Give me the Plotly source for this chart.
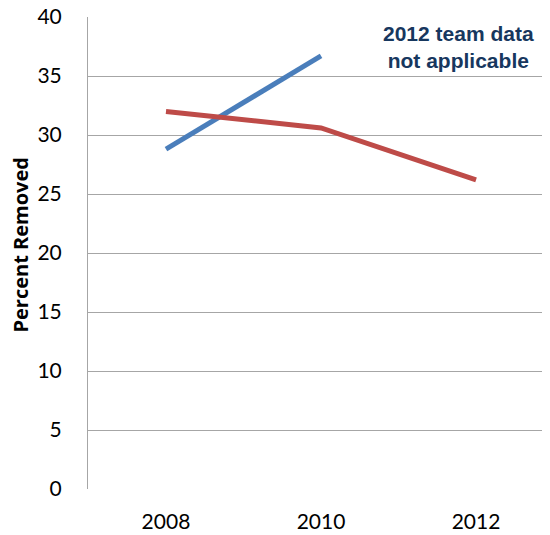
import plotly.graph_objects as go

years = ["2008", "2010", "2012"]
blue_vals = [28.8, 36.7, None]
red_vals = [32.0, 30.6, 26.2]
y_ticks = [0, 5, 10, 15, 20, 25, 30, 35, 40]

# page body has an 8px margin, so the figure is offset by 8px
W, H = 542, 527
ml, mr, mt, mb = 80, 0, 9, 46
pw = W - ml - mr
ph = H - mt - mb

fig = go.Figure()
fig.add_trace(go.Scatter(x=years, y=blue_vals, mode="lines",
                         line=dict(color="#4A7EBB", width=5), showlegend=False))
fig.add_trace(go.Scatter(x=years, y=red_vals, mode="lines",
                         line=dict(color="#BE4B48", width=5), showlegend=False))

fig.add_annotation(x=(450 - ml) / pw, y=1 - (39 - mt) / ph,
                   xref="paper", yref="paper", xanchor="center", yanchor="middle",
                   text="<b>2012 team data<br>not applicable</b>", showarrow=False,
                   font=dict(family="Liberation Sans, Arial", size=21, color="#17375E"),
                   align="center")
fig.add_annotation(x=(12 - ml) / pw, y=1 - (237.5 - mt) / ph, xref="paper", yref="paper",
                   xanchor="center", yanchor="middle",
                   text="<b>Percent Removed</b>", textangle=-90, showarrow=False,
                   font=dict(family="Open Sans", size=20, color="#000000"))

fig.update_layout(
    width=W, height=H,
    margin=dict(l=ml, r=mr, t=mt, b=mb),
    plot_bgcolor="white", paper_bgcolor="white",
    xaxis=dict(type="category", range=[-0.503, 2.477], showgrid=False,
               showline=False, zeroline=False, ticks="", automargin=False,
               tickfont=dict(family="Lato, Open Sans", size=21, color="#000000"),
               ticklabelstandoff=18),
    yaxis=dict(range=[0, 40], tickvals=y_ticks, showgrid=True, gridcolor="#A6A6A6",
               gridwidth=1, showline=True, linecolor="#A6A6A6", linewidth=1,
               zeroline=False, ticks="", ticklabeloverflow="allow", automargin=False,
               tickfont=dict(family="Lato, Open Sans", size=21, color="#000000"),
               ticklabelstandoff=21),
)
fig.write_html("out.html")
